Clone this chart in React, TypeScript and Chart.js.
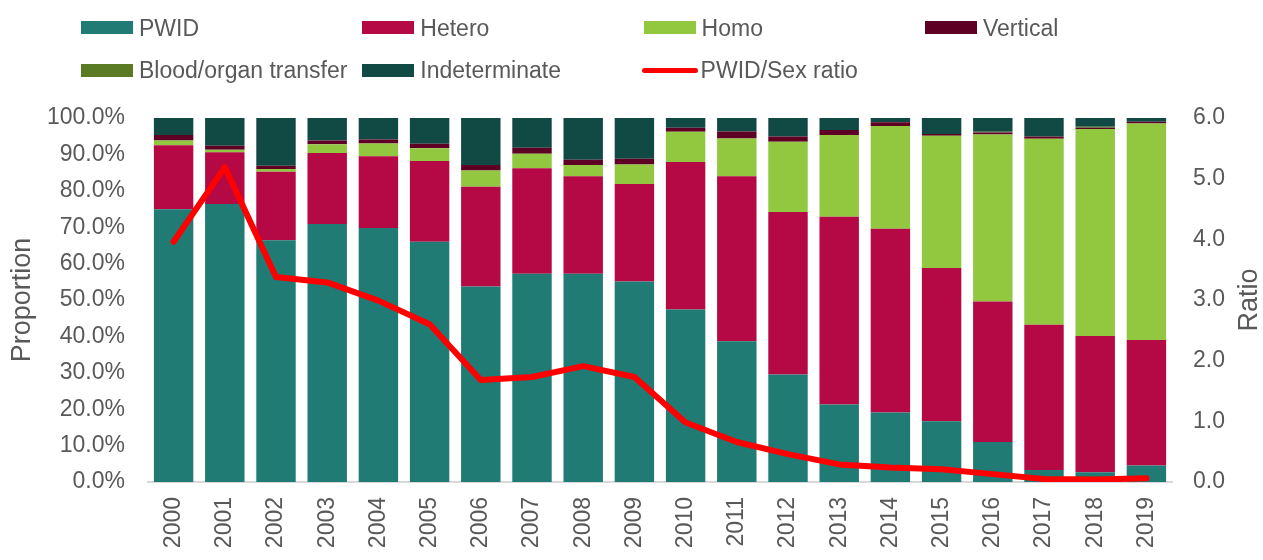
import React, { useEffect, useRef } from 'react';
import { Chart, registerables } from 'chart.js';

Chart.register(...registerables);

const years = ['2000','2001','2002','2003','2004','2005','2006','2007','2008','2009','2010','2011','2012','2013','2014','2015','2016','2017','2018','2019'];
const pwid = [74.9,76.4,66.4,70.9,69.8,66.0,53.7,57.2,57.2,55.1,47.4,38.7,29.5,21.3,19.1,16.7,11.0,3.3,2.7,4.5];
const hetero = [17.6,14.2,18.8,19.5,19.7,22.2,27.4,29.0,26.8,26.8,40.5,45.3,44.7,51.6,50.5,42.1,38.6,39.9,37.4,34.5];
const homo = [1.3,0.7,0.8,2.4,3.5,3.5,4.5,4.0,3.1,5.3,8.3,10.4,19.3,22.4,28.2,36.3,45.9,51.1,56.9,59.5];
const vertical = [1.5,1.1,0.9,1.0,1.1,1.2,1.5,1.6,1.4,1.6,1.1,1.9,1.4,1.4,1.0,0.5,0.5,0.6,0.3,0.5];
const blood = [0,0,0,0,0,0,0,0,0,0,0,0,0,0,0,0,0.2,0,0.3,0];
const indeterminate = [4.7,7.6,13.1,6.2,5.9,7.1,12.9,8.2,11.5,11.2,2.7,3.7,5.1,3.3,1.2,4.4,3.8,5.1,2.4,1.0];
const ratio = [3.96,5.19,3.38,3.29,2.99,2.60,1.68,1.73,1.91,1.73,0.98,0.66,0.46,0.29,0.24,0.21,0.13,0.05,0.04,0.06];

const FONT = "'Liberation Sans', Arial, sans-serif";
const TEXT = '#595959';

const barSeries = [
  { label: 'PWID', data: pwid, color: '#1F7B73' },
  { label: 'Hetero', data: hetero, color: '#B50945' },
  { label: 'Homo', data: homo, color: '#92C740' },
  { label: 'Vertical', data: vertical, color: '#5E0024' },
  { label: 'Blood/organ transfer', data: blood, color: '#5B7A24' },
  { label: 'Indeterminate', data: indeterminate, color: '#114A45' },
];
const lineLabel = 'PWID/Sex ratio';
const lineColor = '#FF0000';

const legendRows = [
  ['PWID', 'Hetero', 'Homo', 'Vertical'],
  ['Blood/organ transfer', 'Indeterminate', lineLabel],
];

const ratioTitle = {
  id: 'ratioTitle',
  afterDraw(chart: any) {
    const { ctx, chartArea } = chart;
    const s = chart.scales.y1;
    ctx.save();
    ctx.translate(s.right - 13, (chartArea.top + chartArea.bottom) / 2);
    ctx.rotate(-Math.PI / 2);
    ctx.font = `27px ${FONT}`;
    ctx.fillStyle = TEXT;
    ctx.textAlign = 'center';
    ctx.textBaseline = 'middle';
    ctx.fillText('Ratio', 0, 0);
    ctx.restore();
  },
};

export default function App() {
  const ref = useRef<HTMLCanvasElement | null>(null);

  useEffect(() => {
    if (!ref.current) return;
    const datasets: any[] = barSeries.map((s) => ({
      type: 'bar',
      label: s.label,
      data: s.data,
      backgroundColor: s.color,
      borderWidth: 0,
      yAxisID: 'y',
      order: 1,
      barPercentage: 0.77,
      categoryPercentage: 1,
    }));
    datasets.push({
      type: 'line',
      label: lineLabel,
      data: ratio,
      borderColor: lineColor,
      backgroundColor: lineColor,
      borderWidth: 6,
      pointRadius: 0,
      tension: 0,
      borderCapStyle: 'round',
      borderJoinStyle: 'round',
      yAxisID: 'y1',
      order: 0,
    });

    const chart = new Chart(ref.current, {
      type: 'bar',
      data: { labels: years, datasets },
      plugins: [ratioTitle],
      options: {
        responsive: false,
        animation: false,
        maintainAspectRatio: false,
        layout: { padding: { top: 118, left: 0, right: 0, bottom: 0 } },
        plugins: { legend: { display: false }, tooltip: { enabled: false } },
        scales: {
          x: {
            stacked: true,
            grid: { display: false, drawTicks: false },
            border: { display: true, color: '#D9D9D9', width: 2 },
            ticks: {
              color: TEXT,
              font: { family: FONT, size: 23 },
              minRotation: 90,
              maxRotation: 90,
              padding: 15,
              autoSkip: false,
            },
            afterFit: (s: any) => { s.height = 78; },
          },
          y: {
            stacked: true,
            position: 'left',
            min: 0,
            max: 100,
            grid: { display: false, drawTicks: false },
            border: { display: false },
            ticks: {
              stepSize: 10,
              color: TEXT,
              font: { family: FONT, size: 23 },
              padding: 23,
              callback: (v: any) => Number(v).toFixed(1) + '%',
            },
            title: {
              display: true,
              text: 'Proportion',
              color: TEXT,
              font: { family: FONT, size: 27, lineHeight: 1 },
              padding: { top: 9, bottom: 0 },
            },
            afterFit: (s: any) => { s.width = 148; },
          },
          y1: {
            position: 'right',
            min: 0,
            max: 6,
            grid: { display: false, drawTicks: false },
            border: { display: false },
            ticks: {
              stepSize: 1,
              color: TEXT,
              font: { family: FONT, size: 23 },
              padding: 21,
              callback: (v: any) => Number(v).toFixed(1),
            },
            afterFit: (s: any) => { s.width = 91; },
          },
        },
      } as any,
    });
    return () => chart.destroy();
  }, []);

  const colorOf = (label: string) => {
    const s = barSeries.find((b) => b.label === label);
    return s ? s.color : lineColor;
  };

  return (
    <div style={{ position: 'absolute', left: 0, top: 0, width: 1263, height: 560, background: '#fff', fontFamily: FONT }}>
      <canvas ref={ref} width={1263} height={560} style={{ position: 'absolute', left: 0, top: 0 }} />
      {legendRows.map((row, ri) =>
        row.map((label, ci) => {
          const isLine = label === lineLabel;
          return (
            <div
              key={label}
              style={{
                position: 'absolute',
                left: 81 + ci * 281.3 - (isLine ? 2 : 0),
                top: (ri === 0 ? 27.5 : 70) - 15,
                height: 30,
                display: 'flex',
                alignItems: 'center',
                whiteSpace: 'nowrap',
              }}
            >
              <span
                style={{
                  display: 'inline-block',
                  width: isLine ? 56 : 52,
                  height: isLine ? 5 : 13,
                  borderRadius: isLine ? 3 : 0,
                  background: colorOf(label),
                  marginRight: isLine ? 3 : 6,
                }}
              />
              <span style={{ fontSize: 23, color: TEXT, lineHeight: '30px' }}>{label}</span>
            </div>
          );
        })
      )}
    </div>
  );
}
